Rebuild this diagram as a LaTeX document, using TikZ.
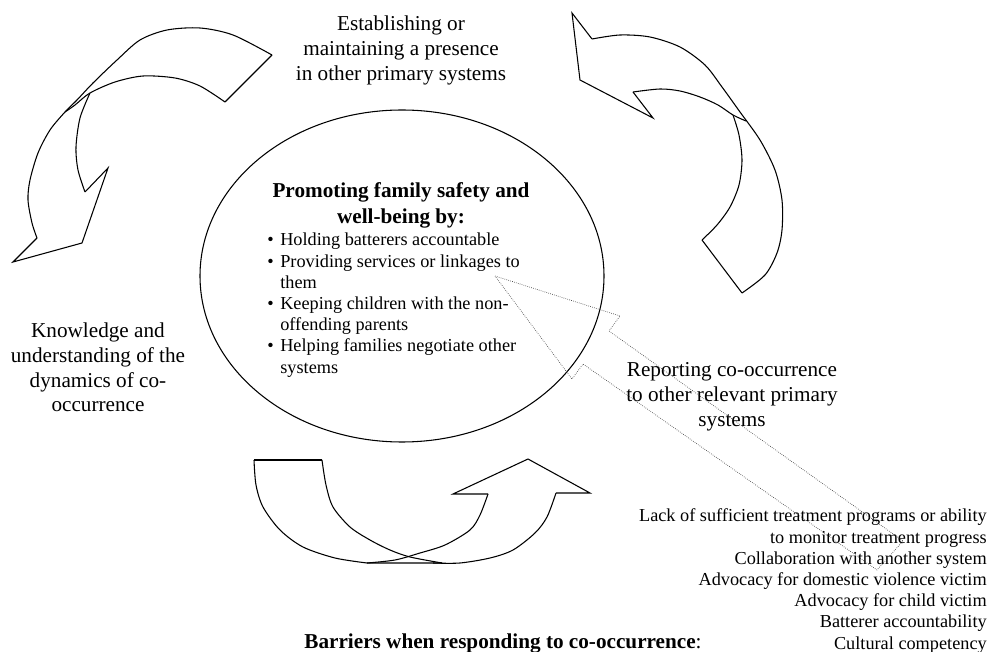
\documentclass[tikz,border=0pt]{standalone}
\usepackage{fontspec}
\setmainfont{Liberation Serif}
\usetikzlibrary{shapes.geometric}
\begin{document}
\begin{tikzpicture}[x=0.75pt,y=-0.75pt,
  blk/.style={draw=black, line width=0.8pt, line join=miter},
  dotarrow/.style={draw=black!75, line width=0.5pt, densely dotted},
  lbl/.style={inner sep=0pt, anchor=base, font=\fontsize{15.9}{18.4}\selectfont},
  small/.style={inner sep=0pt, font=\fontsize{13.7}{15.9}\selectfont}]
\useasboundingbox (0,0) rectangle (990,652);

% central ellipse
\node[draw, ellipse, line width=0.8pt, minimum width=303pt, minimum height=249pt, inner sep=0pt] (ell) at (402,276) {};
\node[inner sep=0pt, anchor=base, font=\bfseries\fontsize{15.9}{19.5}\selectfont] (title) at (401,198)
  {\begin{tabular}[t]{@{}c@{}}Promoting family safety and\\ well-being by:\end{tabular}};
\node[small, anchor=base west] (bul) at (267,246)
  {\begin{tabular}[t]{@{}l@{\hspace{5pt}}l@{}}
   \textbullet & Holding batterers accountable\\
   \textbullet & Providing services or linkages to\\
               & them\\
   \textbullet & Keeping children with the non-\\
               & offending parents\\
   \textbullet & Helping families negotiate other\\
               & systems
   \end{tabular}};

% labels
\node[lbl] (est) at (401,31)
  {\begin{tabular}[t]{@{}c@{}}Establishing or\\ maintaining a presence\\ in other primary systems\end{tabular}};
\node[lbl] (know) at (98,338)
  {\begin{tabular}[t]{@{}c@{}}Knowledge and\\ understanding of the\\ dynamics of co-\\ occurrence\end{tabular}};
\node[lbl] (rep) at (732,377)
  {\begin{tabular}[t]{@{}c@{}}Reporting co-occurrence\\ to other relevant primary\\ systems\end{tabular}};
\node[inner sep=0pt, anchor=base, font=\fontsize{15.9}{18.4}\selectfont] (bar) at (503,648)
  {\textbf{Barriers when responding to co-occurrence}:};
\node[small, anchor=base east] (list) at (987,522)
  {\begin{tabular}[t]{@{}r@{}}
   Lack of sufficient treatment programs or ability\\
   to monitor treatment progress\\
   Collaboration with another system\\
   Advocacy for domestic violence victim\\
   Advocacy for child victim\\
   Batterer accountability\\
   Cultural competency
   \end{tabular}};

% top-left curved arrow
\draw[blk] (272,55) -- (225,102);
\draw[blk] plot[smooth] coordinates {(272,55) (233,35) (200,28) (167,30) (140,40) (117,60) (93,83) (77,100) (65,112) (50,130) (38,153) (30,180) (28,200) (32,223) (37,238)};
\draw[blk] (37,238) -- (13,262) -- (82,243) -- (108,168) -- (85,192);
\draw[blk] plot[smooth] coordinates {(225,102) (200,86) (175,78) (143,76) (115,82) (90,93) (75,105) (65,112)};
\draw[blk] plot[smooth] coordinates {(85,192) (78,170) (76,147) (80,118) (90,93)};

% top-right curved arrow
\draw[blk] (592,39) -- (572,13) -- (580,80) -- (653,118) -- (633,92);
\draw[blk] plot[smooth] coordinates {(592,39) (620,35) (650,37) (680,47) (705,65) (722,87) (740,112) (760,140) (775,170) (782,200) (782,230) (777,253) (765,275) (742,293)};
\draw[blk] (742,293) -- (702,240);
\draw[blk] plot[smooth] coordinates {(702,240) (717,225) (730,207) (739,185) (742,160) (739,135) (733,115)};
\draw[blk] plot[smooth] coordinates {(633,92) (660,89) (680,91) (700,97) (718,105) (733,115) (746,121)};

% bottom curved arrow
\draw[blk] (254,460) -- (322,460);
\draw[blk] plot[smooth] coordinates {(254,460) (256,485) (263,507) (280,530) (303,547) (335,558) (367,563)} -- (442,563);
\draw[blk] plot[smooth] coordinates {(322,460) (326,485) (333,507) (350,527) (370,540) (390,550) (410,557) (442,563)};
\draw[blk] plot[smooth] coordinates {(433,563) (460,563) (490,558) (513,550) (535,533) (547,517) (556,493)};
\draw[blk] (556,493) -- (590,493) -- (528,459) -- (453,494) -- (488,494);
\draw[blk] plot[smooth] coordinates {(488,494) (480,515) (470,530) (445,545) (420,553) (395,560) (367,563)};

% dotted block arrow
\draw[dotarrow] (495,276) -- (620,316) -- (609,331) -- (903,541) -- (877,570) -- (583,364) -- (572,379) -- cycle;
\end{tikzpicture}
\end{document}
